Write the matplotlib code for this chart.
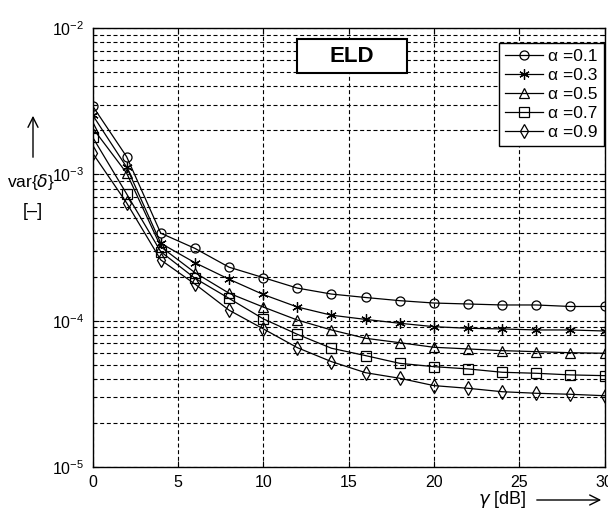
import matplotlib
matplotlib.use("Agg")
import matplotlib.pyplot as plt
from matplotlib.patches import Rectangle

plt.rcParams['font.family'] = ['Liberation Sans', 'DejaVu Sans']
plt.rcParams['mathtext.fontset'] = 'dejavusans'

# SNR values (dB)
gamma = [0, 2, 4, 6, 8, 10, 12, 14, 16, 18, 20, 22, 24, 26, 28, 30]

# var{delta} for each alpha
var_a01 = [2.94e-3, 1.32e-3, 3.96e-4, 3.12e-4, 2.32e-4, 1.97e-4, 1.67e-4, 1.52e-4,
           1.44e-4, 1.37e-4, 1.32e-4, 1.30e-4, 1.28e-4, 1.28e-4, 1.25e-4, 1.25e-4]
var_a03 = [2.55e-3, 1.12e-3, 3.38e-4, 2.49e-4, 1.92e-4, 1.51e-4, 1.24e-4, 1.09e-4,
           1.02e-4, 9.60e-5, 9.10e-5, 8.87e-5, 8.78e-5, 8.64e-5, 8.64e-5, 8.50e-5]
var_a05 = [2.08e-3, 1.02e-3, 3.20e-4, 2.13e-4, 1.54e-4, 1.24e-4, 1.01e-4, 8.64e-5,
           7.58e-5, 7.07e-5, 6.58e-5, 6.41e-5, 6.24e-5, 6.14e-5, 6.04e-5, 5.99e-5]
var_a07 = [1.80e-3, 7.35e-4, 2.96e-4, 1.95e-4, 1.42e-4, 1.03e-4, 8.07e-5, 6.48e-5,
           5.77e-5, 5.11e-5, 4.85e-5, 4.68e-5, 4.44e-5, 4.37e-5, 4.26e-5, 4.21e-5]
var_a09 = [1.40e-3, 6.38e-4, 2.60e-4, 1.78e-4, 1.18e-4, 8.80e-5, 6.54e-5, 5.25e-5,
           4.41e-5, 4.04e-5, 3.60e-5, 3.45e-5, 3.27e-5, 3.19e-5, 3.14e-5, 3.07e-5]

labels = [u'\u03b1 =0.1', u'\u03b1 =0.3', u'\u03b1 =0.5', u'\u03b1 =0.7', u'\u03b1 =0.9']
series = [var_a01, var_a03, var_a05, var_a07, var_a09]
markers = ['o', (6, 2, 0), '^', 's', 'd']
msizes = [6.5, 7.5, 6.5, 6.5, 7]

W, H = 608, 519
fig = plt.figure(figsize=(W / 100, H / 100), dpi=100)
ax = fig.add_axes([92.5 / W, 1 - 467 / H, 512 / W, 439 / H])

for y, lab, m, ms in zip(series, labels, markers, msizes):
    ax.semilogy(gamma, y, '-', color='black', lw=0.9, marker=m, ms=ms,
                mfc='none', mec='black', mew=0.9, label=lab)

ax.set_xlim(0, 30)
ax.set_ylim(1e-5, 1e-2)
ax.set_xticks([0, 5, 10, 15, 20, 25, 30])

grid_style = dict(color='black', lw=0.8, linestyle=(0, (3.6, 2.4)))
ax.grid(True, which='major', axis='x', **grid_style)
ax.grid(True, which='both', axis='y', **grid_style)

ax.tick_params(which='both', direction='in', top=True, right=True, labelsize=11.5,
               width=0.8)
ax.tick_params(which='major', length=4, pad=6)
ax.tick_params(which='minor', length=2.5)
for s in ax.spines.values():
    s.set_linewidth(1.0)

leg = ax.legend(loc='upper right', bbox_to_anchor=(0.999, 0.966), borderaxespad=0,
                fontsize=12.5, fancybox=False, framealpha=1, edgecolor='black',
                handlelength=2.2, handletextpad=0.3, labelspacing=0.22,
                borderpad=0.35)
leg.get_frame().set_linewidth(1.0)

# ELD box
ax.add_patch(Rectangle((0.399, 0.897), 0.215, 0.077, transform=ax.transAxes,
                       facecolor='white', edgecolor='black', lw=1.5, zorder=5))
ax.text(0.506, 0.9355, 'ELD', transform=ax.transAxes, ha='center', va='center',
        fontsize=16, fontweight='bold', zorder=6)

# y label with arrow
ax.annotate('', xy=(33 / W, 1 - 113 / H), xytext=(33 / W, 1 - 160 / H),
            xycoords='figure fraction', textcoords='figure fraction',
            arrowprops=dict(arrowstyle='->', lw=1.0, color='black', mutation_scale=18))
fig.text(31 / W, 1 - 182 / H, r'var{$\delta$}', ha='center', va='center', fontsize=12.5)
fig.text(33 / W, 1 - 212 / H, u'[\u2013]', ha='center', va='center', fontsize=13)

# x label with arrow
fig.text(502 / W, 1 - 500 / H, r'$\gamma$ [dB]', ha='center', va='center', fontsize=13)
ax.annotate('', xy=(604 / W, 1 - 500 / H), xytext=(534 / W, 1 - 500 / H),
            xycoords='figure fraction', textcoords='figure fraction',
            arrowprops=dict(arrowstyle='->', lw=1.0, color='black', mutation_scale=18))

fig.savefig('out.png', dpi=100)
